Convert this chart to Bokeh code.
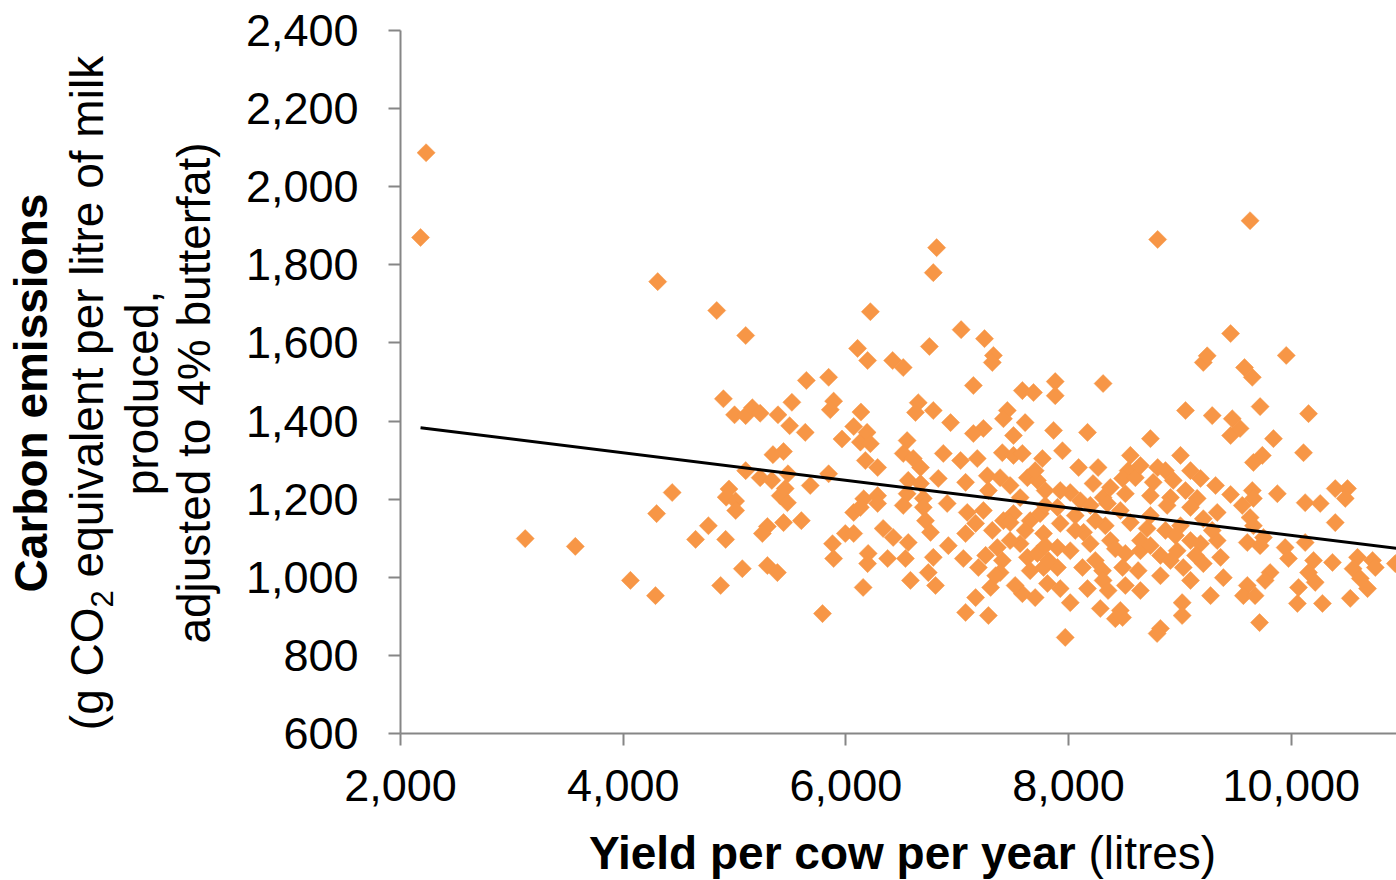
import math
from bokeh.plotting import figure
from bokeh.models import FixedTicker, NumeralTickFormatter, Range1d, ColumnDataSource, Div
from bokeh.layouts import row, column
from bokeh.embed import file_html
from bokeh.resources import INLINE

# ---------------- data ----------------
yield_litres = [
    2180, 2230, 3120, 3570, 4065, 4290, 4310, 4300, 4440, 4650, 4765, 4840, 4875, 5100,
    6220, 6105, 6195, 6815, 6785, 7035, 7245, 6750, 7325, 7315, 6420, 6515,
    8800, 9455, 9210, 9245, 9955, 9580, 9630,
    4900, 5000, 5100, 5160, 5230, 5390, 5515, 5645, 5845, 5890, 5860, 5495, 5635, 5965,
    6070, 6135, 6130, 6190, 5345, 5440, 5100, 5230, 5335, 5480, 5680, 5845, 4950, 4925,
    5010, 5410, 5455, 6175, 6160,
    5010, 5475, 4920, 5295, 5250, 5440, 5600, 5070, 5295, 5385, 5790, 5880, 5890, 5995,
    6070, 6070, 6130, 6195, 6155, 6200,
    7145, 7585, 7685, 7880, 6650, 6785, 6625, 6940, 7450, 7415, 7610, 7235, 7145, 7505,
    6550, 6875, 7030, 7180, 7405, 7505, 7585, 7765, 6515, 6605, 6670, 6285, 6220, 6830,
    7075, 7270, 7385, 7475, 7630, 7720, 6560, 6670, 6550, 6695, 6285, 7280, 7565,
    6335, 6425, 6285, 6515, 6695, 6715, 6760, 6910, 7090, 7235, 7165, 7075, 6920, 6560,
    6535, 6375, 6785, 6740, 6580, 6805, 7055, 7190, 7315, 7415, 7360, 7405, 7385, 7300,
    7165, 7075, 7280, 7585, 7630, 7565, 7720, 7775, 7810, 7775, 7655, 7505, 7745, 7475,
    7655, 7255,
    7880, 8310, 9050, 9290, 9470, 9455, 8170, 7865, 8735, 7945, 8555, 9005, 8090, 8265,
    8535, 8800, 8870, 8485, 8600, 8760, 8940, 9185, 8220, 8015, 8310, 8510, 8915, 9155,
    7925, 9455,
    7900, 8350, 8885, 9095, 9335, 7925, 8135, 8330, 8555, 8705, 8870, 9005, 9210, 7900,
    8015, 8195, 8375, 8510, 8645, 8825, 8975, 9185, 9335, 9365, 9210, 9030, 8825, 8625,
    8485, 8305, 8125, 7900, 7925, 8015, 8170, 8310, 8355, 8465, 8420, 8485, 8825, 8795,
    7970, 9020, 9020, 9275, 9390, 9095, 8060, 8465, 8735, 8645, 9095, 8240, 8960,
    8105, 8195, 7790, 8735, 9050,
    9650, 9720, 10155, 9540, 9840, 10110, 9740, 9660, 10395, 10505, 10485, 9650, 9660,
    9875, 10125, 10260, 10395, 9630, 9660, 9750, 9605, 9945, 9975, 10125, 10200, 10370,
    10595, 10730, 10555, 10755, 10935, 9810, 9765, 10155, 10215, 10620, 9605, 9570, 9675,
    10065, 10685, 10530, 10055, 10280, 9715,
    7475, 7610, 7345, 7520, 7700, 7790, 7820, 8060, 8240, 8420, 8735, 8915, 9140, 9290,
    8510, 8645, 8285, 9560, 9720, 7700, 7790, 8375, 8645, 9095, 9320,
]
co2_g = [
    1870, 2087, 1099, 1079, 992, 953, 1757, 1163, 1217, 1097, 1132, 1683, 979, 1619,
    1680, 1586, 1555, 1844, 1780, 1634, 1611, 1591, 1568, 1550, 1555, 1537,
    1865, 1624, 1550, 1567, 1568, 1537, 1913,
    1457, 1416, 1414, 1434, 1420, 1416, 1448, 1504, 1512, 1451, 1429, 1388, 1371, 1354,
    1386, 1423, 1346, 1371, 1314, 1322, 1273, 1255, 1248, 1265, 1235, 1265, 1226, 1205,
    1195, 1209, 1227, 1299, 1201,
    1171, 1191, 1097, 1130, 1112, 1140, 1145, 1022, 1030, 1012, 907, 1086, 1048, 1112,
    1112, 1166, 1179, 1035, 974, 1061,
    1491, 1478, 1473, 1501, 1447, 1427, 1422, 1396, 1427, 1406, 1396, 1381, 1368, 1363,
    1350, 1317, 1299, 1304, 1319, 1312, 1317, 1304, 1317, 1304, 1281, 1281, 1342, 1253,
    1243, 1260, 1255, 1235, 1255, 1248, 1248, 1240, 1214, 1202, 1209, 1222, 1204,
    1125, 1102, 1189, 1184, 1179, 1145, 1115, 1189, 1166, 1171, 1138, 1112, 1081, 1089,
    1048, 1048, 1051, 1012, 992, 979, 1048, 1025, 1120, 1145, 1076, 1043, 1012, 974,
    948, 910, 902, 958, 1051, 1086, 1061, 1025, 984, 1112, 1145, 1163, 1163, 1094,
    1017, 1056,
    1465, 1496, 1427, 1414, 1406, 1363, 1371, 1376, 1355, 1324, 1312, 1312, 1281, 1281,
    1273, 1281, 1273, 1253, 1255, 1243, 1248, 1253, 1240, 1217, 1204, 1214, 1204, 1202,
    1222, 1212,
    1179, 1189, 1184, 1179, 1166, 1138, 1115, 1132, 1140, 1125, 1120, 1132, 1150, 1076,
    1068, 1086, 1094, 1061, 1068, 1056, 1068, 1086, 1094, 1051, 1035, 1025, 1004, 1017,
    1025, 1017, 1025, 1025, 971, 935, 971, 992, 966, 915, 894, 897, 869, 856,
    846, 935, 902, 953, 999, 992, 1158, 1171, 1158, 1094, 1094, 1043, 1107,
    1196, 1184, 1184, 1209, 1222,
    1512, 1437, 1419, 1381, 1355, 1319, 1312, 1294, 1227, 1227, 1202, 1222, 1202,
    1214, 1191, 1189, 1140, 1153, 1132, 1102, 1089, 1076, 1048, 1089, 1043, 1038,
    1051, 1043, 1022, 1025, 1035, 1012, 992, 1012, 987, 997, 979, 953, 953,
    974, 971, 946, 933, 933, 884,
    1140, 1120, 1004, 979, 948, 1081, 1043, 1120, 1145, 1073, 1081, 1043, 1056, 1120,
    979, 966, 920, 1184, 1081, 1273, 1222, 1230, 1286, 1273, 1235,
]
trend_x = [2180, 11000]
trend_y = [1383, 1072]
x_ticks = [2000, 4000, 6000, 8000, 10000]
y_ticks = [600, 800, 1000, 1200, 1400, 1600, 1800, 2000, 2200, 2400]

FONT = "Liberation Sans"
AXIS_GREY = "#868686"
ORANGE = "#F79646"

p = figure(width=1156, height=830,
           x_range=Range1d(2000, 10945), y_range=Range1d(600, 2400),
           output_backend="svg", toolbar_location=None, margin=0,
           min_border_left=160, min_border_right=0, min_border_top=30, min_border_bottom=97)
p.outline_line_color = None
p.xgrid.visible = False
p.ygrid.visible = False
p.background_fill_color = "white"
p.border_fill_color = "white"

src = ColumnDataSource(dict(x=yield_litres, y=co2_g))
p.scatter("x", "y", source=src, marker="square", size=12.8, angle=math.pi / 4,
          fill_color=ORANGE, line_color=ORANGE, line_width=0.5)
p.line(trend_x, trend_y, line_color="black", line_width=3)

for ax in (p.xaxis[0], p.yaxis[0]):
    ax.axis_line_color = AXIS_GREY
    ax.axis_line_width = 2
    ax.major_tick_line_color = AXIS_GREY
    ax.major_tick_line_width = 2
    ax.major_tick_in = 0
    ax.major_tick_out = 12
    ax.minor_tick_line_color = None
    ax.major_label_text_font = FONT
    ax.major_label_text_font_size = "45px"
    ax.major_label_text_color = "black"
    ax.formatter = NumeralTickFormatter(format="0,0")

p.xaxis.ticker = FixedTicker(ticks=x_ticks)
p.yaxis.ticker = FixedTicker(ticks=y_ticks)
p.xaxis.major_label_standoff = 24
p.yaxis.major_label_standoff = 30

# y-axis title: four centred lines, rotated to read bottom-to-top
ytitle_html = (
    "<div style=\"width:700px;height:216px;transform:translate(-239px,285px) rotate(-90deg);"
    "font-family:'Liberation Sans';font-size:46px;color:#000;text-align:center;white-space:nowrap;\">"
    "<div style=\"height:56px;line-height:56px;font-weight:bold;\">Carbon emissions</div>"
    "<div style=\"height:56px;line-height:56px;\">(g CO<sub style=\"font-size:31px;\">2</sub> equivalent per litre of milk</div>"
    "<div style=\"height:54px;line-height:54px;\">produced,</div>"
    "<div style=\"height:50px;line-height:50px;\">adjusted to 4% butterfat)</div>"
    "</div>"
)
left_div = Div(text=ytitle_html, width=240, height=880, margin=0,
               styles={"overflow": "visible"})

xtitle_html = (
    "<div style=\"font-family:'Liberation Sans';font-size:46px;line-height:40px;color:#000;"
    "padding-left:349px;padding-top:3px;white-space:nowrap;\">"
    "<b>Yield per cow per year</b> (litres)</div>"
)
bottom_div = Div(text=xtitle_html, width=1156, height=50, margin=0,
                 styles={"overflow": "visible"})

layout = row(left_div, column(p, bottom_div, spacing=0, margin=0), spacing=0, margin=0)

open("out.html", "w").write(file_html(layout, INLINE))
